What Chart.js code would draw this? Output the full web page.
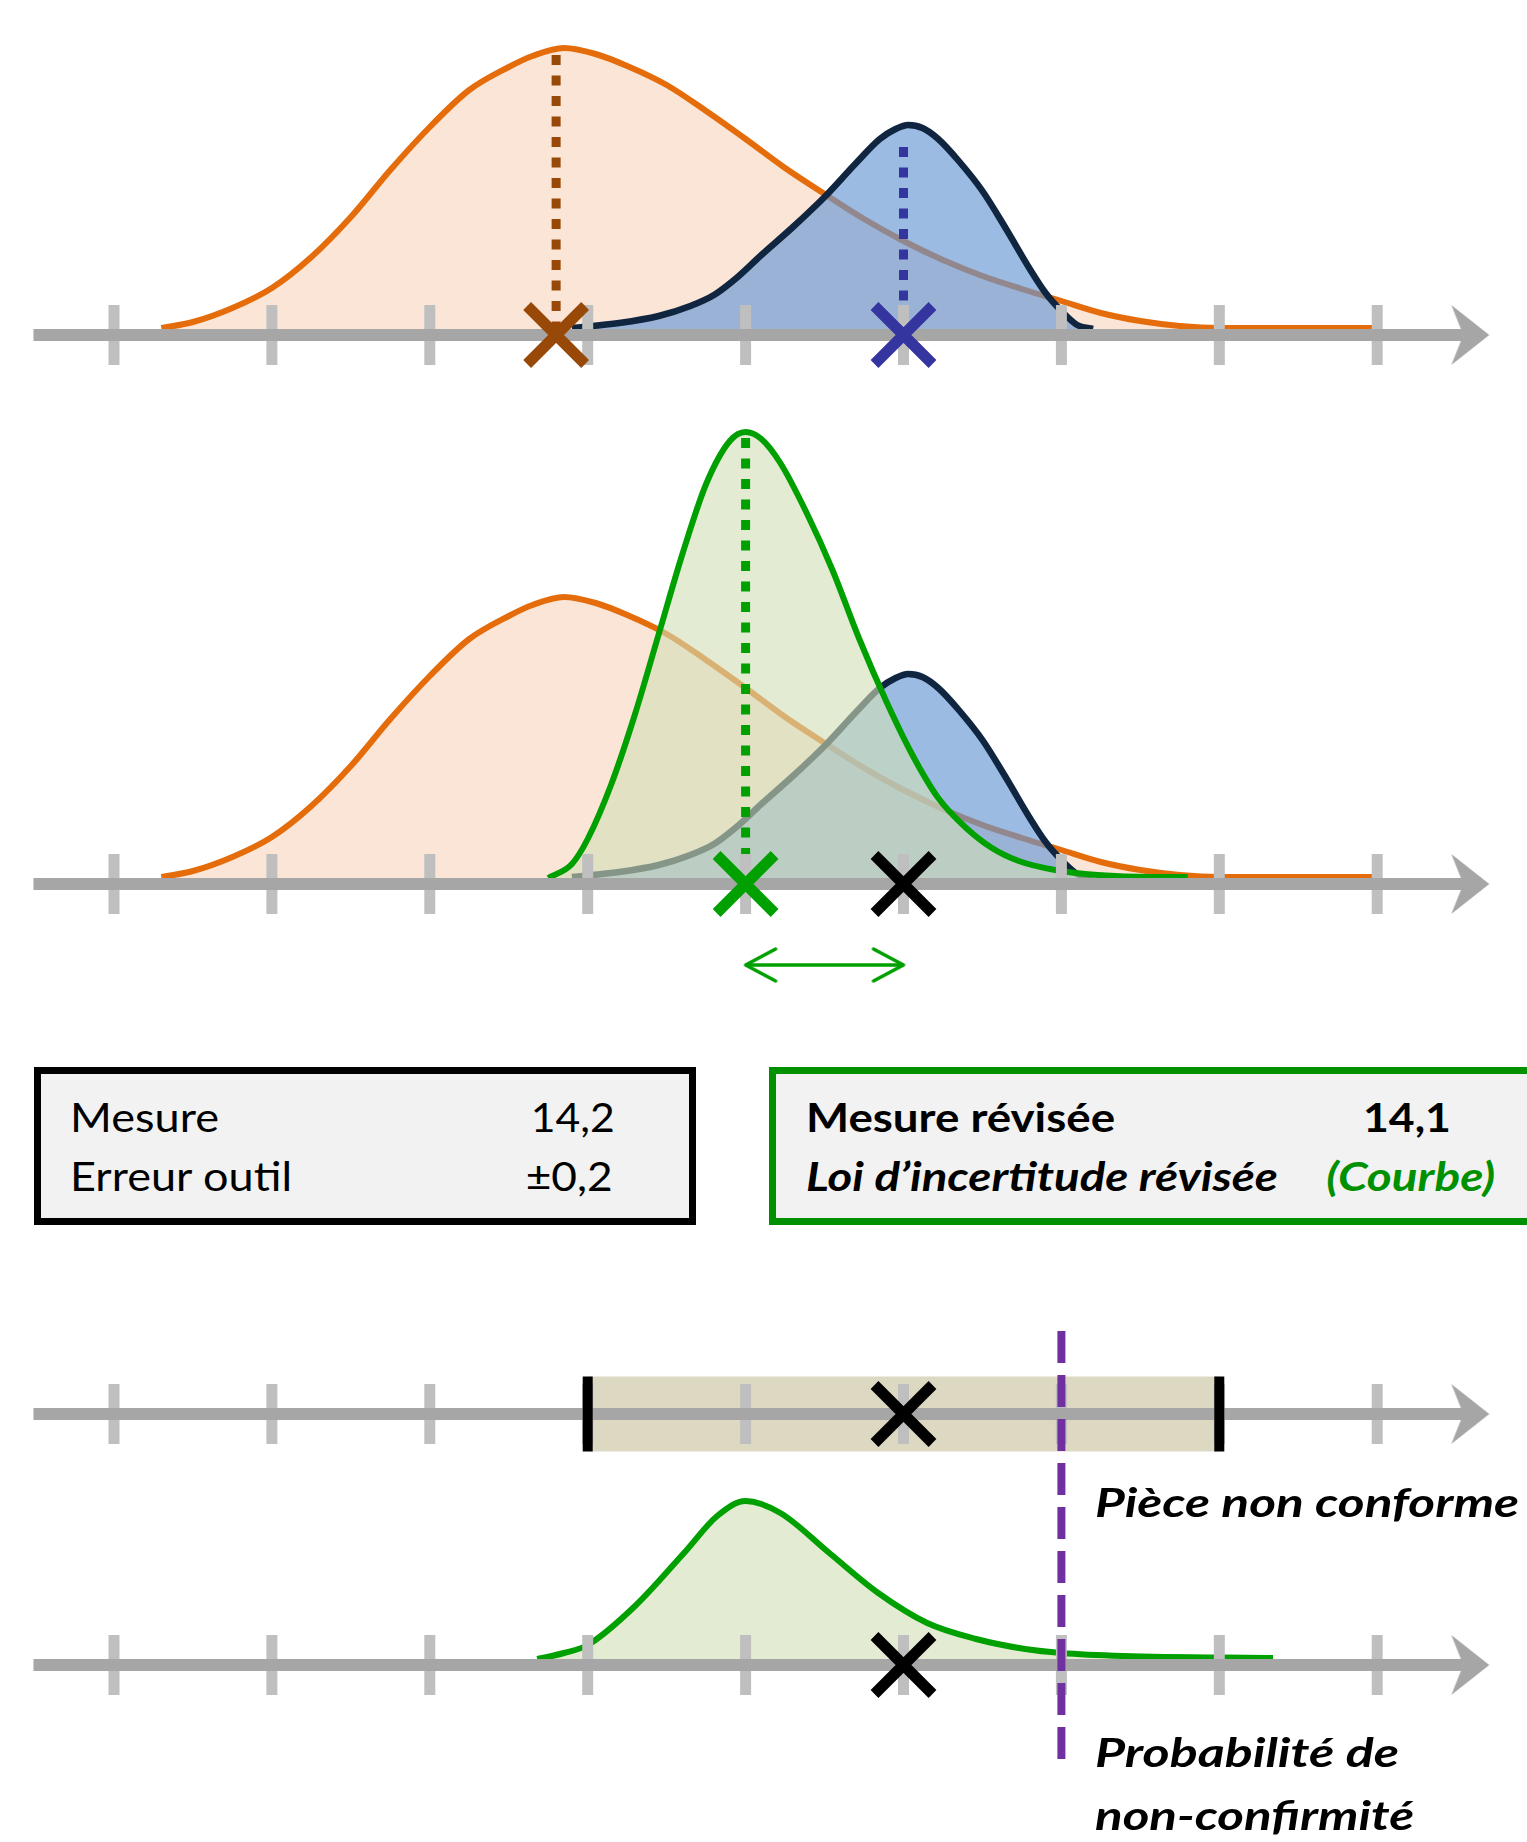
<!DOCTYPE html>
<html lang="fr">
<head>
<meta charset="utf-8">
<title>Mesure révisée et loi d'incertitude</title>
<script src="https://cdn.jsdelivr.net/npm/chart.js@4.4.1/dist/chart.umd.min.js"></script>
<style>
  html, body { margin: 0; padding: 0; background: #fff; }
  body { width: 1527px; height: 1842px; position: relative; overflow: hidden; font-family: Lato, "Open Sans", sans-serif; }
  #graph { position: absolute; left: 0; top: 0; }
  .box { position: absolute; top: 1067px; height: 158px; box-sizing: border-box; background: #f2f2f2; border: 7px solid #000; }
  .t { position: absolute; font-size: 41px; line-height: 49px; white-space: nowrap; color: #000; transform-origin: left center; }
  .r { transform-origin: right center; }
  .b { font-weight: bold; }
  .i { font-style: italic; }
  .note { font-size: 40px; line-height: 48px; font-weight: bold; font-style: italic; }
</style>
</head>
<body>
<canvas id="graph" width="1527" height="1842"></canvas>

<div class="box" style="left:34px; width:662px;"></div>
<div class="box" style="left:769px; width:800px; border-color:#009000;"></div>

<div class="t" style="left:70px; top:1092px;" data-w="149">Mesure</div>
<div class="t r" style="right:912px; top:1092px;" data-w="84">14,2</div>
<div class="t" style="left:70px; top:1151px;" data-w="222">Erreur outil</div>
<div class="t r" style="right:914px; top:1151px;" data-w="87">±0,2</div>

<div class="t b" style="left:806px; top:1092px;" data-w="309">Mesure révisée</div>
<div class="t b r" style="right:76px; top:1092px;" data-w="88">14,1</div>
<div class="t b i" style="left:806px; top:1151px;" data-w="472">Loi d’incertitude révisée</div>
<div class="t b i r" style="right:32px; top:1151px; color:#009000;" data-w="169">(Courbe)</div>

<div class="t note" style="left:1095px; top:1478px;" data-w="424">Pièce non conforme</div>
<div class="t note" style="left:1095px; top:1728px;" data-w="304">Probabilité de</div>
<div class="t note" style="left:1095px; top:1791px;" data-w="319">non-confirmité</div>

<script>
const tickValues = [13.7, 13.8, 13.9, 14.0, 14.1, 14.2, 14.3, 14.4, 14.5];
const mesure = 14.2;
const mesureRevisee = 14.1;
const erreurOutil = 0.2;
const limite = 14.3;
const modeInitial = 13.98;

const orangeX = [13.73, 13.75, 13.775, 13.8, 13.825, 13.85, 13.875, 13.9, 13.925, 13.95, 13.965, 13.985, 14.005, 14.025, 14.05, 14.075, 14.1, 14.125, 14.15, 14.175, 14.2, 14.225, 14.25, 14.275, 14.3, 14.325, 14.35, 14.375, 14.4, 14.45, 14.5];
const orangeY = [0.07, 0.13, 0.27, 0.47, 0.78, 1.18, 1.65, 2.08, 2.45, 2.68, 2.79, 2.87, 2.81, 2.69, 2.50, 2.24, 1.96, 1.67, 1.41, 1.16, 0.94, 0.75, 0.59, 0.46, 0.34, 0.22, 0.14, 0.09, 0.07, 0.07, 0.07];

const blueX = [13.99, 14.02, 14.045, 14.065, 14.08, 14.095, 14.11, 14.13, 14.15, 14.17, 14.185, 14.195, 14.203, 14.212, 14.222, 14.235, 14.25, 14.265, 14.28, 14.29, 14.3, 14.31, 14.32];
const blueY = [0.07, 0.12, 0.19, 0.29, 0.40, 0.58, 0.80, 1.08, 1.38, 1.72, 1.96, 2.06, 2.10, 2.07, 1.96, 1.74, 1.44, 1.06, 0.66, 0.42, 0.24, 0.10, 0.06];

const greenX = [13.975, 13.99, 14.0, 14.015, 14.03, 14.045, 14.06, 14.075, 14.09, 14.1, 14.11, 14.122, 14.139, 14.155, 14.172, 14.189, 14.206, 14.222, 14.239, 14.256, 14.273, 14.296, 14.323, 14.357, 14.38];
const greenY = [0.06, 0.20, 0.45, 1.00, 1.70, 2.50, 3.30, 4.00, 4.43, 4.52, 4.45, 4.21, 3.70, 3.14, 2.45, 1.83, 1.28, 0.86, 0.57, 0.36, 0.23, 0.14, 0.09, 0.07, 0.07];

const greenLowX = [13.968, 13.985, 14.0, 14.03, 14.061, 14.082, 14.1, 14.122, 14.153, 14.184, 14.215, 14.246, 14.277, 14.3, 14.339, 14.434];
const greenLowY = [0.06, 0.12, 0.20, 0.59, 1.12, 1.49, 1.64, 1.52, 1.12, 0.72, 0.42, 0.26, 0.16, 0.12, 0.09, 0.07];

// hauteur des pointillés verticaux
const brownTop = 2.80, blueTop = 1.88, greenTop = 4.46;

// couleurs
const GREY = '#a6a6a6', TICK = '#bfbfbf';
const ORANGE = '#e46c0a', ORANGE_FILL = '#fbe5d6';
const NAVY = '#0f2540', BLUE_FILL = 'rgba(101,151,212,0.65)';
const GREEN = '#00a000', GREEN_FILL = 'rgba(209,222,183,0.61)';
const BROWN = '#984807', INDIGO = '#3535a0', PURPLE = '#7030a0', TAN = '#ddd8c2';

// position des axes horizontaux sur la page (px) -> échelles y
const W = 1527, H = 1842, PX = 100;
const axisRows = { y1: 335, y2: 884, y3: 1414, y4: 1665 };
const xMin = 13.7 - 114 / 1579;
const xMax = xMin + W / 1579;
const axisStart = 13.649, shaftEnd = 14.558, axisTip = 14.571;

function arrowHead() {
  const c = document.createElement('canvas');
  c.width = 80; c.height = 62;
  const g = c.getContext('2d');
  g.fillStyle = GREY;
  g.beginPath();
  g.moveTo(40, 31); g.lineTo(2, 1); g.lineTo(14, 31); g.lineTo(2, 61);
  g.closePath();
  g.fill();
  return c;
}

function chevron(dir) {
  const c = document.createElement('canvas');
  c.width = 68; c.height = 40;
  const g = c.getContext('2d');
  g.strokeStyle = GREEN; g.lineWidth = 3.5; g.lineCap = 'round'; g.lineJoin = 'round';
  g.beginPath();
  g.moveTo(34 - dir * 30, 4); g.lineTo(34, 20); g.lineTo(34 - dir * 30, 36);
  g.stroke();
  return c;
}

const head = arrowHead();
const pts = (xs, ys) => xs.map((x, i) => ({ x, y: ys[i] }));

function curve(xs, ys, yId, line, fill, width, order) {
  return {
    data: pts(xs, ys), yAxisID: yId, borderColor: line, backgroundColor: fill,
    fill: 'origin', borderWidth: width, pointRadius: 0, cubicInterpolationMode: 'monotone', order
  };
}

function axis(yId) {
  return [
    { data: [{ x: axisStart, y: 0 }, { x: shaftEnd, y: 0 }], yAxisID: yId, borderColor: GREY, borderWidth: 12, pointRadius: 0, order: 40 },
    { data: tickValues.map(x => ({ x, y: 0 })), yAxisID: yId, showLine: false, pointStyle: 'line', pointRotation: 90,
      pointRadius: 30, pointBorderWidth: 11, pointBorderColor: TICK, order: 50 },
    { data: [{ x: axisTip, y: 0 }], yAxisID: yId, showLine: false, pointStyle: head, pointRadius: 5, order: 40 }
  ];
}

function cross(x, yId, color) {
  return { data: [{ x, y: 0 }], yAxisID: yId, showLine: false, pointStyle: 'crossRot',
    pointRadius: 41, pointBorderWidth: 11, pointBorderColor: color, order: 10 };
}

function dotted(x, top, yId, color) {
  return { data: [{ x, y: top }, { x, y: 0 }], yAxisID: yId, borderColor: color, borderWidth: 9,
    borderDash: [10, 10.5], pointRadius: 0, order: 60 };
}

function vbar(x, lo, hi, yId, color, width, dash, order) {
  return { data: [{ x, y: hi }, { x, y: lo }], yAxisID: yId, borderColor: color, borderWidth: width,
    borderDash: dash, pointRadius: 0, order };
}

const boxHalf = 0.375;

const datasets = [
  // panneau 1 : mesure initiale
  curve(orangeX, orangeY, 'y1', ORANGE, ORANGE_FILL, 6, 90),
  curve(blueX, blueY, 'y1', NAVY, BLUE_FILL, 6.5, 80),
  dotted(modeInitial, brownTop, 'y1', BROWN),
  dotted(mesure, blueTop, 'y1', INDIGO),
  ...axis('y1'),
  cross(modeInitial, 'y1', BROWN),
  cross(mesure, 'y1', INDIGO),

  // panneau 2 : loi révisée
  curve(orangeX, orangeY, 'y2', ORANGE, ORANGE_FILL, 6, 90),
  curve(blueX, blueY, 'y2', NAVY, BLUE_FILL, 6.5, 80),
  curve(greenX, greenY, 'y2', GREEN, GREEN_FILL, 6, 70),
  dotted(mesureRevisee, greenTop, 'y2', GREEN),
  ...axis('y2'),
  cross(mesureRevisee, 'y2', GREEN),
  cross(mesure, 'y2', '#000'),
  { data: [{ x: mesureRevisee, y: -0.81 }, { x: mesure, y: -0.81 }], yAxisID: 'y2', borderColor: GREEN, borderWidth: 3.5,
    pointStyle: [chevron(-1), chevron(1)], pointRadius: 5, order: 10 },

  // panneau 3 : intervalle mesure ± erreur
  { data: [{ x: mesure - erreurOutil, y: boxHalf }, { x: mesure + erreurOutil, y: boxHalf }], yAxisID: 'y3',
    borderWidth: 0, backgroundColor: TAN, fill: { value: -boxHalf }, pointRadius: 0, order: 100 },
  vbar(mesure - erreurOutil, -boxHalf, boxHalf, 'y3', '#000', 10, [], 35),
  vbar(mesure + erreurOutil, -boxHalf, boxHalf, 'y3', '#000', 10, [], 35),
  ...axis('y3'),
  cross(mesure, 'y3', '#000'),

  // panneau 4 : probabilité de non-conformité
  curve(greenLowX, greenLowY, 'y4', GREEN, GREEN_FILL, 6, 70),
  ...axis('y4'),
  cross(mesure, 'y4', '#000'),
  vbar(limite, -1.06, 3.34, 'y4', PURPLE, 8, [32, 12], 30)
];

const yScales = {};
Object.entries(axisRows).forEach(([id, row]) => {
  yScales[id] = { type: 'linear', display: false, min: (row - H) / PX, max: row / PX };
});

new Chart(document.getElementById('graph'), {
  type: 'line',
  data: { datasets },
  options: {
    responsive: false,
    animation: false,
    events: [],
    layout: { padding: 0, autoPadding: false },
    plugins: { legend: { display: false }, tooltip: { enabled: false } },
    scales: Object.assign({ x: { type: 'linear', display: false, min: xMin, max: xMax } }, yScales)
  }
});

// ajuste la largeur des textes (police de remplacement plus large que l'originale)
function fitTexts() {
  document.querySelectorAll('[data-w]').forEach(el => {
    el.style.transform = 'none';
    const w = el.getBoundingClientRect().width;
    el.style.transform = 'scaleX(' + (+el.dataset.w / w).toFixed(3) + ')';
  });
}
fitTexts();
if (document.fonts && document.fonts.ready) document.fonts.ready.then(fitTexts);
</script>
</body>
</html>
